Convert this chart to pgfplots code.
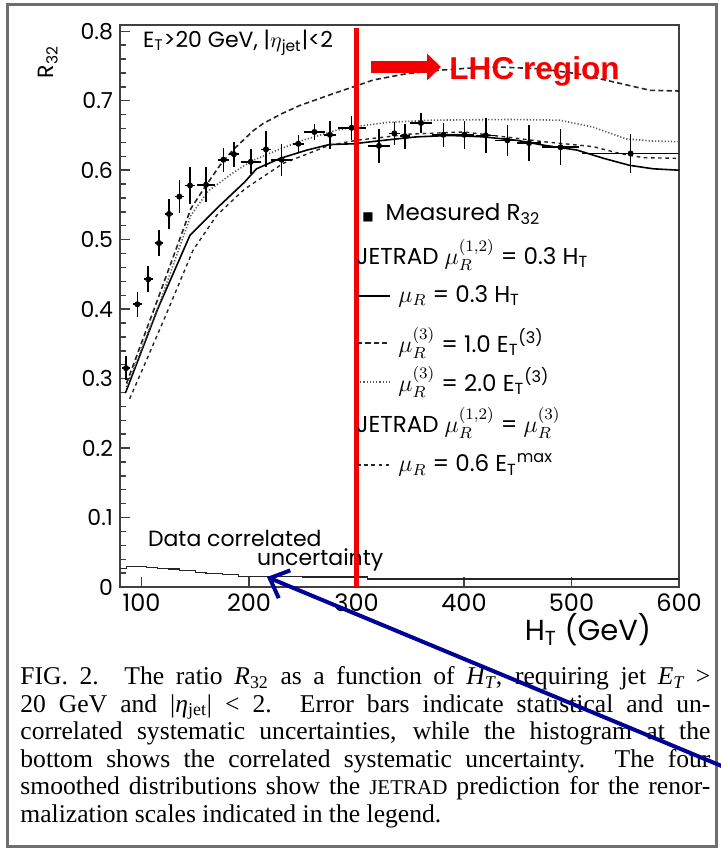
\documentclass[border=0pt]{standalone}
\usepackage{fontspec}
\setmainfont{Poppins}
\newfontfamily\capfont{Liberation Serif}
\newfontfamily\lhcfont{Liberation Sans}
\newfontfamily\symfont{DejaVu Sans}
\usepackage{pgfplots}
\usepackage{pgfplotstable}
\pgfplotsset{compat=1.18}
\usetikzlibrary{arrows.meta}
\definecolor{lhcred}{RGB}{245,0,0}
\definecolor{navy}{RGB}{0,0,150}
\definecolor{framegray}{RGB}{110,110,110}

% measured R32: x, y, half bin width, uncertainty
\pgfplotstableread{
x     y     ex   ey
85.6  0.315 4    0.017
96.1  0.407 4    0.018
106.3 0.443 4    0.019
116.3 0.495 4    0.019
125.6 0.537 4    0.022
135.2 0.562 4    0.024
145.1 0.578 5    0.026
160.0 0.579 8.5  0.025
176.1 0.615 5    0.017
186.0 0.623 5    0.018
201.6 0.612 9.5  0.018
215.8 0.630 5    0.026
230.4 0.615 10   0.023
245.9 0.638 5    0.013
260.8 0.655 10   0.012
275.3 0.651 6    0.020
295.5 0.661 13   0.017
320.9 0.635 10   0.024
335.2 0.653 5    0.017
345.1 0.649 5    0.018
360.0 0.668 10   0.014
380.8 0.651 11   0.017
400.3 0.651 9    0.020
420.2 0.650 9    0.025
440.3 0.643 11.5 0.022
460.5 0.639 11   0.026
489.9 0.633 17   0.026
555.0 0.624 45   0.028
}\measured

% JETRAD mu_R = 0.3 H_T
\pgfplotstableread{
x y
85 0.279
115 0.400
145 0.506
170 0.545
196 0.583
207 0.602
229 0.617
254 0.629
275 0.637
297 0.638
325 0.643
356 0.648
387 0.650
418 0.648
449 0.643
474 0.636
505 0.629
530 0.617
554 0.607
576 0.602
600 0.600
}\muHT

% mu_R^(3) = 1.0 E_T^(3)
\pgfplotstableread{
x y
86 0.293
116 0.418
146 0.545
160 0.578
173 0.607
185 0.629
204 0.657
213 0.667
230 0.681
247 0.693
278 0.710
297 0.720
316 0.730
347 0.739
378 0.744
424 0.749
471 0.746
505 0.739
545 0.725
573 0.715
600 0.714
}\muETone

% mu_R^(3) = 2.0 E_T^(3)
\pgfplotstableread{
x y
86 0.288
116 0.405
146 0.535
162 0.570
184 0.595
202 0.613
228 0.630
250 0.643
280 0.657
300 0.663
330 0.669
370 0.672
443 0.673
489 0.672
520 0.662
551 0.645
575 0.642
600 0.641
}\muETtwo

% mu_R = 0.6 E_T^max
\pgfplotstableread{
x y
89 0.271
100 0.310
122 0.389
148 0.485
170 0.535
196 0.573
232 0.610
275 0.636
300 0.643
350 0.652
400 0.655
443 0.647
474 0.641
520 0.634
545 0.624
567 0.618
600 0.617
}\muETmax

% correlated uncertainty histogram
\pgfplotstableread{
x y
80 0.027
86 0.029
105 0.028
115 0.027
125 0.026
135 0.024
150 0.021
160 0.019
175 0.018
190 0.0155
215 0.015
250 0.0145
310 0.0115
600 0.0115
}\corr

\tikzset{
  sSolid/.style={black, line width=0.8pt},
  sDash/.style={black!85, line width=0.8pt, dash pattern=on 2.6pt off 1.6pt},
  sDot/.style={black!65, line width=0.8pt, dash pattern=on 0.6pt off 1pt},
  sSparse/.style={black!85, line width=0.7pt, dash pattern=on 1.8pt off 1.8pt},
}

\begin{document}
\begin{tikzpicture}
\begin{axis}[
  at={(60pt,-293.5pt)}, anchor=south west,
  scale only axis, width=279.5pt, height=281pt,
  xmin=80, xmax=600, ymin=0, ymax=0.809,
  axis line style={line width=0.9pt, black!75},
  xtick={100,200,300,400,500,600},
  ytick={0,0.1,0.2,0.3,0.4,0.5,0.6,0.7,0.8},
  minor y tick num=4,
  tick align=inside, tick pos=left,
  major tick length=5pt, minor tick length=3pt,
  tick style={black!75, line width=0.7pt},
  yticklabel style={/pgf/number format/fixed, /pgf/number format/precision=1,
    font=\fontsize{11}{13}\selectfont},
  xticklabel style={font=\fontsize{12}{14}\selectfont},
  /pgf/number format/assume math mode=true,
  clip=false,
]
\addplot[sSolid] table {\muHT};
\addplot[sDash] table {\muETone};
\addplot[sDot] table {\muETtwo};
\addplot[sSparse] table {\muETmax};
\addplot[only marks, mark=*, mark size=1.3pt, black,
  error bars/.cd, x dir=both, x explicit, y dir=both, y explicit,
  error mark=none, error bar style={line width=0.8pt, black}]
  table[x error=ex, y error=ey] {\measured};
\addplot[const plot, black!85, line width=0.6pt] table {\corr};
\addplot[lhcred, line width=2pt] coordinates {(300,0) (300,0.805)};
\end{axis}

\begin{scope}[x=0.5pt, y=-0.5pt]
\useasboundingbox (0,0) rectangle (720,849);
\draw[framegray, line width=1.5pt] (7,5) rectangle (716,846);

% axis titles
\node[rotate=90, font=\fontsize{11}{13}\selectfont] at (48,62) {R\textsubscript{32}};
\node[font=\fontsize{14.5}{16}\selectfont] at (588,630) {H\textsubscript{T} (GeV)};
\node[anchor=west, font=\fontsize{11}{13}\selectfont] at (136,43)
  {E\textsubscript{T}>20 GeV, |$\eta$\textsubscript{jet}|<2};
\node[anchor=west, font=\fontsize{11}{13}\selectfont] at (141,538) {Data correlated};
\node[anchor=west, font=\fontsize{11}{13}\selectfont] at (250,560) {uncertainty};

% legend
\begin{scope}[font=\fontsize{11.5}{13}\selectfont]
\node[anchor=west, inner sep=0] at (362,214) {{\symfont\fontsize{6}{8}\selectfont ■}\hspace{6pt}Measured R\textsubscript{32}};
\node[anchor=west, inner sep=0] at (356,255) {JETRAD $\mu_R^{(1,2)}$ = 0.3 H\textsubscript{T}};
\draw[sSolid] (357,296) -- (390,296);
\node[anchor=west, inner sep=0] at (398,296) {$\mu_R$ = 0.3 H\textsubscript{T}};
\draw[sDash] (357,343) -- (390,343);
\node[anchor=west, inner sep=0] at (398,343) {$\mu_R^{(3)}$ = 1.0 E\textsubscript{T}\textsuperscript{(3)}};
\draw[sDot] (357,382) -- (390,382);
\node[anchor=west, inner sep=0] at (398,382) {$\mu_R^{(3)}$ = 2.0 E\textsubscript{T}\textsuperscript{(3)}};
\node[anchor=west, inner sep=0] at (356,423) {JETRAD $\mu_R^{(1,2)}$ = $\mu_R^{(3)}$};
\draw[sSparse] (357,465) -- (390,465);
\node[anchor=west, inner sep=0] at (398,465) {$\mu_R$ = 0.6 E\textsubscript{T}\textsuperscript{max}};
\end{scope}

% red line redrawn over legend
\draw[lhcred, line width=2pt] (355.5,28) -- (355.5,587);

% LHC region annotation
\draw[lhcred, line width=6pt, -{Triangle[length=7pt, width=13pt]}] (371,67) -- (441,67);
\node[anchor=base west, inner sep=0, text=lhcred,
  font=\lhcfont\bfseries\fontsize{15.8}{18}\selectfont] at (449,80) {LHC region};

% caption
\node[anchor=north west, inner sep=0, align=left,
  font=\capfont\fontsize{12.8}{13.8}\selectfont] at (20,666) {%
\makebox[345pt][s]{FIG. 2.\quad The ratio \textit{R}\textsubscript{32} as a function of \textit{H\textsubscript{T}}, requiring jet \textit{E\textsubscript{T}} >}\\
\makebox[345pt][s]{20 GeV and |\textit{η}\textsubscript{jet}| < 2. Error bars indicate statistical and un-}\\
\makebox[345pt][s]{correlated systematic uncertainties, while the histogram at the}\\
\makebox[345pt][s]{bottom shows the correlated systematic uncertainty. The four}\\
\makebox[345pt][s]{smoothed distributions show the {\fontsize{10.5}{12}\selectfont JETRAD} prediction for the renor-}\\
malization scales indicated in the legend.};

% blue arrow
\draw[navy, line width=2pt, -{Straight Barb[length=8pt, width=15pt]}] (724,767) -- (267,577);
\end{scope}
\end{tikzpicture}
\end{document}
